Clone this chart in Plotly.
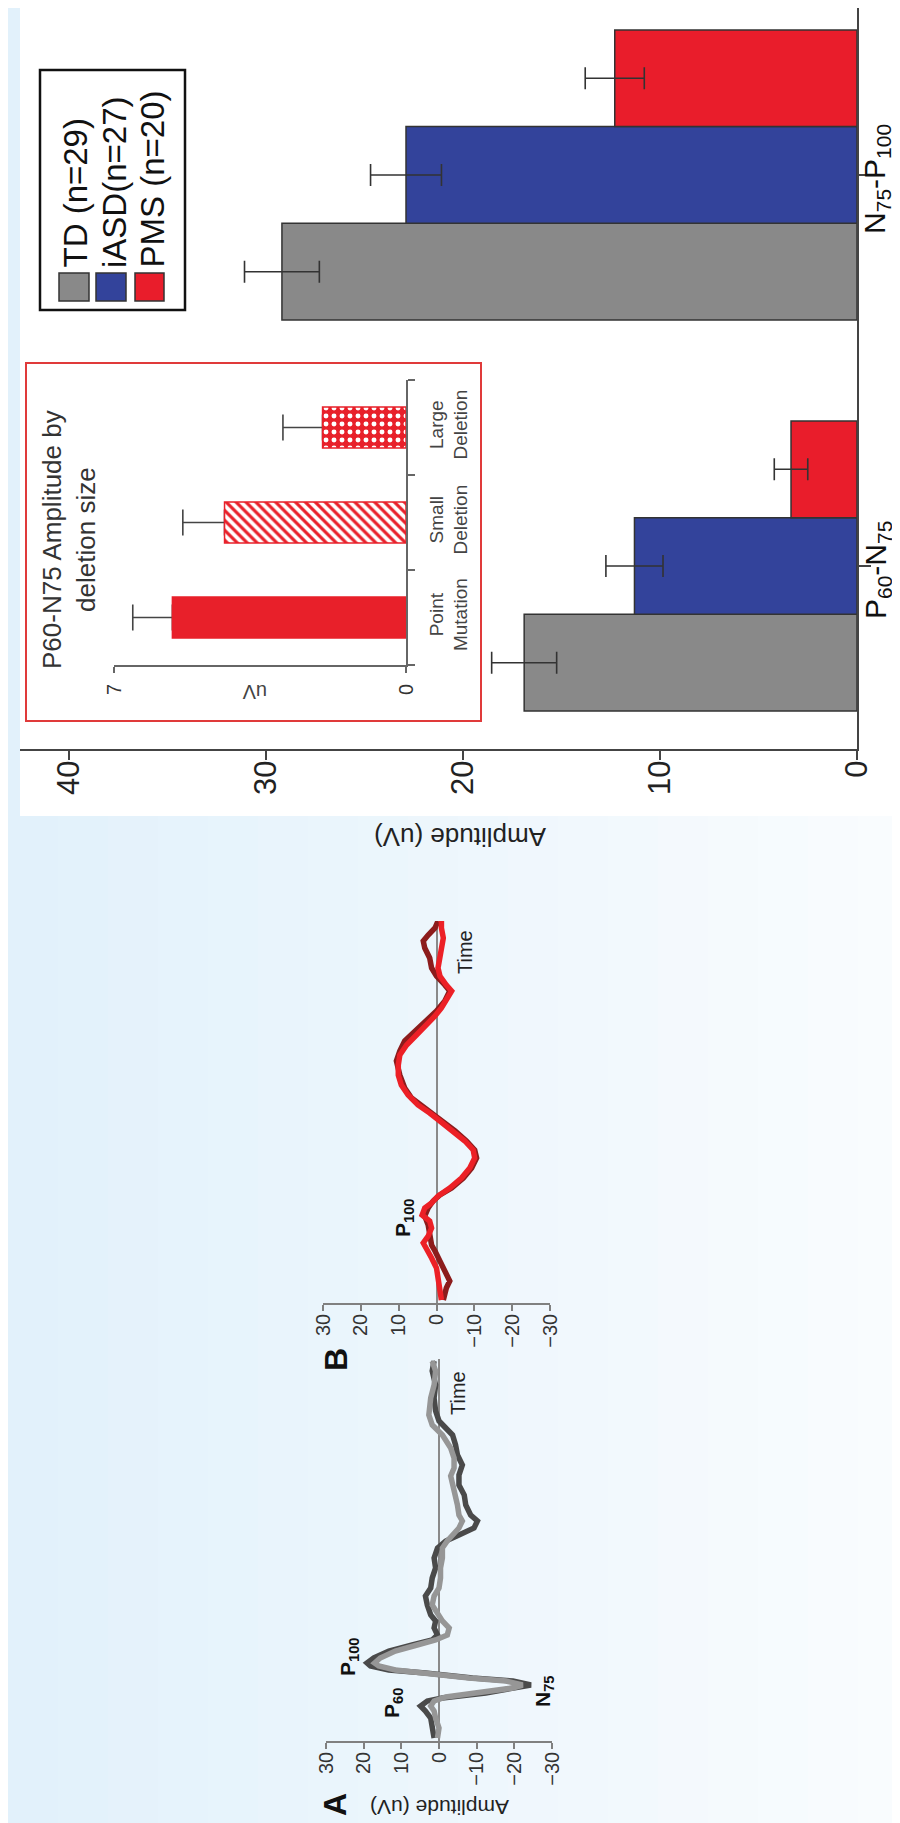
import plotly.graph_objects as go

W, H = 900, 1823
FONT = "Liberation Sans, Arial, sans-serif"

# ---------------- data: main bar chart ----------------
components = ["P60-N75", "N75-P100"]
component_labels = ["P<sub>60</sub>-N<sub>75</sub>", "N<sub>75</sub>-P<sub>100</sub>"]
groups = ["TD (n=29)", "iASD(n=27)", "PMS (n=20)"]
td_mean = [16.9, 29.2]
td_err = [1.65, 1.9]
iasd_mean = [11.3, 22.9]
iasd_err = [1.45, 1.8]
pms_mean = [3.35, 12.3]
pms_err = [0.85, 1.5]
amp_ticks = [0, 10, 20, 30, 40]

# ---------------- data: inset ----------------
deletion_types = ["Point Mutation", "Small Deletion", "Large Deletion"]
deletion_labels = ["Point<br>Mutation", "Small<br>Deletion", "Large<br>Deletion"]
deletion_mean = [5.6, 4.35, 2.0]
deletion_err = [0.95, 1.0, 0.95]
inset_ticks = [0, 7]

# ---------------- data: waveforms (time in arbitrary sample units) ----------------
wave_ticks = [-30, -20, -10, 0, 10, 20, 30]
tA_dark = [3, 13, 23, 30, 35, 40, 43, 48, 53, 56, 60, 63, 68, 71, 75, 78, 83, 90, 96, 101, 106, 113, 120, 126, 136, 145, 153, 163, 173, 183, 193, 200, 206, 213, 220, 226, 236, 246, 256, 266, 276, 286, 296, 306, 313, 320, 330, 343, 356, 370, 380]
aA_dark = [1.3, 1.8, 2.2, 3.6, 4.9, 3.1, -0.9, -12.4, -21.3, -24.4, -19.6, -8.9, 3.6, 13.3, 18.2, 19.1, 17.3, 13.3, 7.1, 1.8, 0.4, 1.3, 0.9, 2.2, 3.1, 3.6, 2.2, 1.8, 0.9, 1.3, 0.4, -1.8, -5.3, -9.3, -10.2, -8.4, -7.1, -6.7, -5.3, -5.3, -6.2, -4.9, -4.4, -3.6, -1.8, 0.0, 0.9, 1.3, 0.9, 1.8, 1.3]
tA_light = [3, 13, 23, 30, 35, 40, 44, 48, 53, 56, 60, 63, 68, 71, 75, 78, 83, 90, 96, 101, 106, 113, 120, 126, 136, 145, 153, 163, 173, 183, 193, 200, 206, 213, 220, 226, 236, 246, 256, 265, 273, 283, 293, 306, 316, 326, 343, 356, 370, 380]
aA_light = [0.4, 0.0, 0.9, 1.3, 2.2, 1.3, -1.8, -10.7, -19.6, -22.2, -17.8, -8.0, 3.1, 11.6, 16.0, 17.1, 15.6, 11.6, 5.8, 0.9, -2.2, -2.7, -0.9, 0.0, 1.8, 1.3, 0.0, -0.4, -0.4, -0.9, -0.9, -2.2, -3.6, -5.3, -6.2, -5.3, -4.9, -4.4, -3.6, -3.1, -4.0, -4.0, -3.1, -0.9, 1.8, 2.7, 2.2, 1.3, 0.9, 1.8]
tB_bright = [3, 15, 25, 35, 45, 55, 60, 67, 75, 82, 88, 95, 100, 107, 115, 125, 135, 145, 153, 162, 172, 182, 190, 198, 208, 218, 228, 238, 248, 258, 268, 278, 287, 295, 305, 312, 318, 327, 335, 345, 355, 365, 375, 382]
aB_bright = [-1.3, -0.9, -0.4, 0.0, 1.3, 2.6, 3.5, 2.2, 1.3, 1.8, 3.8, 3.1, 1.3, -0.4, -3.5, -6.6, -8.8, -10.1, -9.7, -7.5, -4.4, -0.9, 1.8, 4.9, 7.5, 9.3, 10.1, 10.1, 9.7, 7.9, 5.3, 2.6, 0.4, -1.3, -3.1, -4.0, -2.6, -0.9, -0.4, -0.9, -1.3, -1.8, -1.3, -1.3]
tB_dark = [3, 15, 22, 32, 42, 52, 58, 68, 78, 87, 95, 102, 108, 115, 125, 135, 145, 153, 162, 172, 182, 190, 198, 205, 215, 228, 242, 252, 262, 272, 282, 292, 302, 312, 318, 327, 335, 345, 355, 362, 368, 375, 382]
aB_dark = [-1.8, -2.6, -3.5, -2.2, -1.3, 0.4, 1.3, 1.8, 2.2, 3.1, 2.2, 0.9, -0.9, -4.0, -7.1, -9.3, -10.6, -10.1, -7.9, -4.9, -1.3, 1.3, 4.0, 6.6, 8.4, 9.7, 10.6, 9.7, 8.4, 5.7, 2.6, 0.0, -2.2, -3.5, -2.2, 0.0, 1.3, 1.8, 3.1, 3.5, 2.2, 0.4, -0.4]

# ---------------- colours ----------------
C_TD, C_IASD, C_PMS = "#898989", "#33439b", "#e91d2b"
C_RED = "#e8202a"


def px(x):
    return x / W


def py(y):
    return 1 - y / H


fig = go.Figure()

# main bars
for name, mean, err, col in [(groups[0], td_mean, td_err, C_TD),
                             (groups[1], iasd_mean, iasd_err, C_IASD),
                             (groups[2], pms_mean, pms_err, C_PMS)]:
    fig.add_trace(go.Bar(
        x=mean, y=components, orientation="h", name=name,
        marker=dict(color=col, line=dict(color="#333333", width=1.5)),
        error_x=dict(type="data", array=err, visible=True, color="#333333", thickness=1.6, width=11),
        xaxis="x", yaxis="y"))

# inset: error bars (drawn underneath), then bars
fig.add_trace(go.Bar(
    x=deletion_mean, y=deletion_types, orientation="h", width=0.43, offset=-0.215,
    marker=dict(color="rgba(0,0,0,0)", line=dict(width=0)),
    error_x=dict(type="data", symmetric=False, array=deletion_err, arrayminus=[0, 0, 0],
                 visible=True, color="#444444", thickness=1.6, width=13),
    xaxis="x2", yaxis="y2", hoverinfo="skip"))
fig.add_trace(go.Bar(
    x=deletion_mean, y=deletion_types, orientation="h", width=0.43, offset=-0.215,
    marker=dict(color=C_RED, line=dict(color=C_RED, width=1.5),
                pattern=dict(shape=["", "\\", "."],
                             bgcolor=[C_RED, "white", C_RED],
                             fgcolor=[C_RED, C_RED, "white"],
                             size=[8, 7, 8], solidity=[0.3, 0.45, 0.3])),
    xaxis="x2", yaxis="y2"))

# waveforms
fig.add_trace(go.Scatter(x=aA_dark, y=tA_dark, mode="lines", line=dict(color="#4a4a4a", width=5.5), xaxis="x3", yaxis="y3"))
fig.add_trace(go.Scatter(x=aA_light, y=tA_light, mode="lines", line=dict(color="#969696", width=5.5), xaxis="x3", yaxis="y3"))
fig.add_trace(go.Scatter(x=aB_dark, y=tB_dark, mode="lines", line=dict(color="#8c1c1c", width=5.5), xaxis="x4", yaxis="y4"))
fig.add_trace(go.Scatter(x=aB_bright, y=tB_bright, mode="lines", line=dict(color="#ec2026", width=5.5), xaxis="x4", yaxis="y4"))

# ---------------- shapes ----------------
shapes = []
n_bands = 18
c0, c1 = (226, 241, 251), (249, 252, 254)
for i in range(n_bands):
    f = i / (n_bands - 1)
    col = "rgb(%d,%d,%d)" % tuple(round(a + (b - a) * f) for a, b in zip(c0, c1))
    shapes.append(dict(type="rect", xref="paper", yref="paper", layer="below",
                       x0=i / n_bands, x1=(i + 1) / n_bands + 0.002, y0=0, y1=1,
                       fillcolor=col, line=dict(width=0)))
# white panel
shapes.append(dict(type="rect", xref="paper", yref="paper", layer="below",
                   x0=px(12), x1=1, y0=py(808), y1=1, fillcolor="white", line=dict(width=0)))
# inset box
shapes.append(dict(type="rect", xref="paper", yref="paper", layer="below",
                   x0=px(18), x1=px(473), y0=py(713), y1=py(355), fillcolor="white",
                   line=dict(color="#e03a3a", width=2)))
# legend box and swatches
shapes.append(dict(type="rect", xref="paper", yref="paper",
                   x0=px(32), x1=px(177), y0=py(302), y1=py(62), fillcolor="white",
                   line=dict(color="#111111", width=2.5), layer="below"))
for (x0, x1), col in zip([(51, 81), (88, 118), (127, 156)], [C_TD, C_IASD, C_PMS]):
    shapes.append(dict(type="rect", xref="paper", yref="paper",
                       x0=px(x0), x1=px(x1), y0=py(293), y1=py(265), fillcolor=col,
                       line=dict(color="#333333", width=1.5)))

# ---------------- annotations ----------------
ann = []


def text(x, y, s, size, angle=-90, xa="center", ya="middle", color="#222222"):
    ann.append(dict(x=px(x), y=py(y), xref="paper", yref="paper", text=s, showarrow=False,
                    textangle=angle, xanchor=xa, yanchor=ya,
                    font=dict(family=FONT, size=size, color=color)))


for xc, g in zip([67, 106, 144], groups):
    text(xc, 262, g, 33, ya="bottom", color="#111111")
text(452, 829, "Amplitude (uV)", 26, angle=180)
text(61, 532, "P60-N75 Amplitude by<br>deletion size", 26, color="#333333")
text(247, 684, "uV", 20, angle=180, color="#444444")
# category labels of the main chart, placed on the category axis
for c, lab in zip(components, component_labels):
    ann.append(dict(x=px(869), y=c, xref="paper", yref="y", text=lab, showarrow=False,
                    textangle=-90, xanchor="center", yanchor="middle", yshift=-4,
                    font=dict(family=FONT, size=30, color="#111111")))
# panel A
text(327, 1797, "<b>A</b>", 32, color="#111111")
text(432, 1800, "Amplitude (uV)", 21, angle=180)
text(450, 1385, "Time", 20)
text(385, 1695, "<b>P<sub>60</sub></b>", 21, color="#111111")
text(341, 1649, "<b>P<sub>100</sub></b>", 21, color="#111111")
text(536, 1683, "<b>N<sub>75</sub></b>", 21, color="#111111")
# panel B
text(328, 1352, "<b>B</b>", 32, color="#111111")
text(457, 944, "Time", 20)
text(396, 1210, "<b>P<sub>100</sub></b>", 21, color="#111111")

common = dict(showgrid=False, automargin=False, fixedrange=True)

fig.update_layout(
    template="none",
    width=W, height=H, margin=dict(l=0, r=0, t=0, b=0),
    paper_bgcolor="#eef7fd", plot_bgcolor="rgba(0,0,0,0)",
    font=dict(family=FONT, color="#222222"),
    showlegend=False, barmode="group", bargap=0.258, bargroupgap=0,
    shapes=shapes, annotations=ann,
    xaxis=dict(domain=[px(12), px(849)], range=[42.5, 0], anchor="y",
               showline=True, linecolor="#444444", linewidth=2, zeroline=False,
               ticks="outside", ticklen=9, tickwidth=2, tickcolor="#444444",
               tickmode="array", tickvals=amp_ticks, tickangle=-90,
               tickfont=dict(size=31, color="#222222"), ticklabelstandoff=-12, **common),
    yaxis=dict(domain=[py(741), 1], range=[-0.468, 1.427], anchor="x", type="category",
               categoryorder="array", categoryarray=components, side="right",
               showline=True, linecolor="#444444", linewidth=2, zeroline=False,
               ticks="outside", ticklen=12, tickwidth=2, tickcolor="#444444",
               tickmode="array", tickvals=components, showticklabels=False, **common),
    xaxis2=dict(domain=[px(106), px(398)], range=[7, 0], anchor="y2",
                showline=True, linecolor="#666666", linewidth=1.5, zeroline=False,
                ticks="outside", ticklen=6, tickwidth=1.5, tickcolor="#666666",
                tickmode="array", tickvals=inset_ticks, tickangle=-90,
                tickfont=dict(size=20, color="#333333"), ticklabelstandoff=3, **common),
    yaxis2=dict(domain=[py(657), py(372)], range=[-0.5, 2.5], anchor="x2", type="category",
                categoryorder="array", categoryarray=deletion_types, side="right",
                showline=True, linecolor="#666666", linewidth=1.5, zeroline=False,
                ticks="outside", tickson="boundaries", ticklen=7, tickwidth=1.5, tickcolor="#666666",
                tickmode="array", tickvals=deletion_types, ticktext=deletion_labels,
                tickangle=-90, tickfont=dict(size=19, color="#444444"), ticklabelstandoff=12, **common),
    xaxis3=dict(domain=[px(318), px(544)], range=[30, -30], anchor="y3",
                showline=True, linecolor="#808080", linewidth=1.5,
                zeroline=True, zerolinecolor="#8a8a8a", zerolinewidth=1.5,
                ticks="outside", ticklen=6, tickwidth=1.5, tickcolor="#808080",
                tickmode="array", tickvals=wave_ticks, tickangle=-90,
                tickfont=dict(size=20, color="#333333"), ticklabelstandoff=-5, **common),
    yaxis3=dict(domain=[py(1733), py(1351)], range=[0, 382], anchor="x3",
                showline=False, zeroline=False, showticklabels=False, ticks="", **common),
    xaxis4=dict(domain=[px(315), px(542)], range=[30, -30], anchor="y4",
                showline=True, linecolor="#808080", linewidth=1.5,
                zeroline=True, zerolinecolor="#8a8a8a", zerolinewidth=1.5,
                ticks="outside", ticklen=6, tickwidth=1.5, tickcolor="#808080",
                tickmode="array", tickvals=wave_ticks, tickangle=-90,
                tickfont=dict(size=20, color="#333333"), ticklabelstandoff=-5, **common),
    yaxis4=dict(domain=[py(1295), py(913)], range=[0, 382], anchor="x4",
                showline=False, zeroline=False, showticklabels=False, ticks="", **common),
)

fig.write_html("out.html")
